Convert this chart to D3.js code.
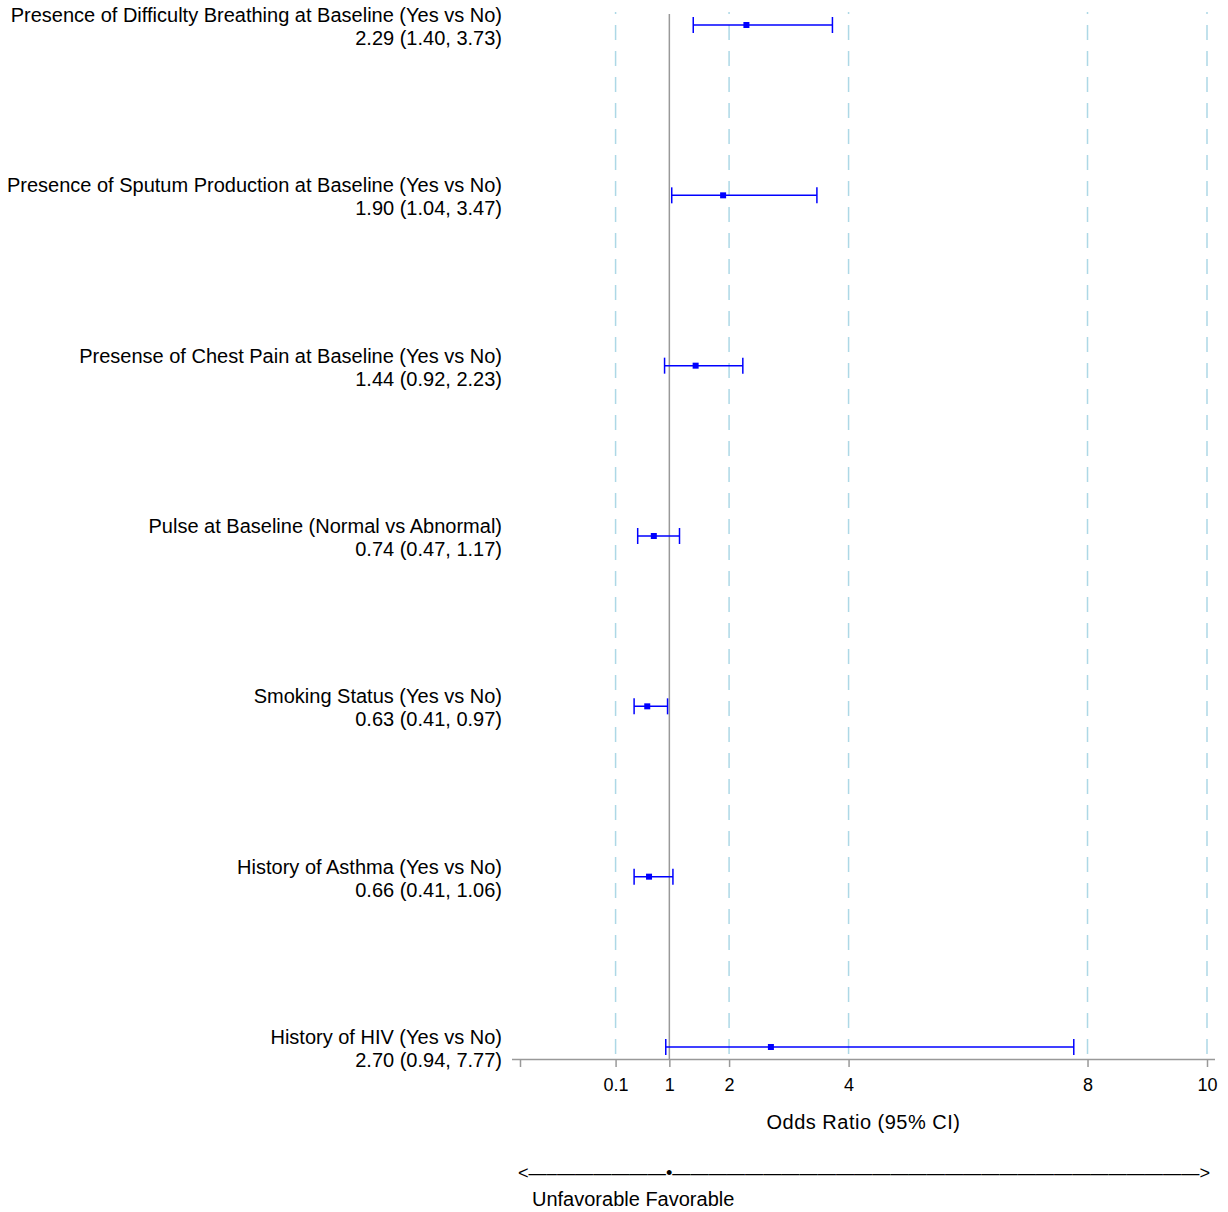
<!DOCTYPE html>
<html>
<head>
<meta charset="utf-8">
<script src="https://cdn.jsdelivr.net/npm/d3@7"></script>
<style>
  body { margin: 0; background: #fff; }
  text { font-family: 'Liberation Sans', Arial, sans-serif; fill: #000; }
</style>
</head>
<body>
<div id="forest"></div>
<script>
// data
const labels = [
    'Presence of Difficulty Breathing at Baseline (Yes vs No)',
    'Presence of Sputum Production at Baseline (Yes vs No)',
    'Presense of Chest Pain at Baseline (Yes vs No)',
    'Pulse at Baseline (Normal vs Abnormal)',
    'Smoking Status (Yes vs No)',
    'History of Asthma (Yes vs No)',
    'History of HIV (Yes vs No)'
];
const oddsRatio = [2.29, 1.90, 1.44, 0.74, 0.63, 0.66, 2.70];
const lower = [1.40, 1.04, 0.92, 0.47, 0.41, 0.41, 0.94];
const upper = [3.73, 3.47, 2.23, 1.17, 0.97, 1.06, 7.77];
const tickValues = [-1.5, 0.1, 1, 2, 4, 8, 10];
const refLines = [0.1, 2, 4, 8, 10];

// constants for svg
const width = 1228;
const height = 1212;

const svg = d3.select('#forest')
    .append('svg')
    .attr('width', width)
    .attr('height', height);

const rows = labels.map((d, i) => ({ label: d, or: oddsRatio[i], lo: lower[i], hi: upper[i] }));

// x scale (linear, as in the original)
const x = d3.scaleLinear()
    .domain([-1.5, 10])
    .range([520, 1207]);

// y scale for the rows
const y = d3.scalePoint()
    .domain(d3.range(rows.length))
    .range([25, 1047]);

const axisY = 1059;

// dashed reference lines
svg.selectAll('.ref')
    .data(refLines)
    .join('line')
    .attr('x1', d => x(d))
    .attr('x2', d => x(d))
    .attr('y1', 12)
    .attr('y2', axisY)
    .attr('stroke', '#add8e6')
    .attr('stroke-width', 1.5)
    .attr('stroke-dasharray', '15,11')
    .attr('stroke-dashoffset', 13);

// solid line at 1
svg.append('line')
    .attr('x1', x(1))
    .attr('x2', x(1))
    .attr('y1', 14)
    .attr('y2', axisY)
    .attr('stroke', '#999')
    .attr('stroke-width', 1.5);

// x axis
const axis = svg.append('g')
    .attr('transform', 'translate(0,' + axisY + ')')
    .call(d3.axisBottom(x)
        .tickValues(tickValues)
        .tickFormat(d => d < 0 ? '' : d3.format('~g')(d))
        .tickSize(8)
        .tickSizeOuter(0)
        .tickPadding(11));
axis.select('.domain')
    .attr('d', 'M512,0.5H1215')
    .attr('stroke', '#999')
    .attr('stroke-width', 1.5);
axis.selectAll('.tick line')
    .attr('stroke', '#999')
    .attr('stroke-width', 1.5);
axis.selectAll('.tick text')
    .style('font-family', "'Liberation Sans', Arial, sans-serif")
    .style('font-size', '18px')
    .attr('fill', '#000');

// axis title
svg.append('text')
    .attr('x', (x.range()[0] + x.range()[1]) / 2)
    .attr('y', 1129)
    .attr('text-anchor', 'middle')
    .style('font-size', '20px')
    .style('letter-spacing', '0.5px')
    .text('Odds Ratio (95% CI)');

// row labels
const g = svg.selectAll('.row')
    .data(rows)
    .join('g')
    .attr('class', 'row');

g.append('text')
    .attr('x', 502)
    .attr('y', (d, i) => y(i) - 3)
    .attr('text-anchor', 'end')
    .style('font-size', '20px')
    .text(d => d.label);

g.append('text')
    .attr('x', 502)
    .attr('y', (d, i) => y(i) + 20)
    .attr('text-anchor', 'end')
    .style('font-size', '20px')
    .text(d => d3.format('.2f')(d.or) + ' (' + d3.format('.2f')(d.lo) + ', ' + d3.format('.2f')(d.hi) + ')');

// CI lines
g.append('line')
    .attr('x1', d => x(d.lo))
    .attr('x2', d => x(d.hi))
    .attr('y1', (d, i) => y(i))
    .attr('y2', (d, i) => y(i))
    .attr('stroke', '#0000ff')
    .attr('stroke-width', 1.5);

// caps
['lo', 'hi'].forEach(k => {
    g.append('line')
        .attr('x1', d => x(d[k]))
        .attr('x2', d => x(d[k]))
        .attr('y1', (d, i) => y(i) - 8)
        .attr('y2', (d, i) => y(i) + 8)
        .attr('stroke', '#0000ff')
        .attr('stroke-width', 1.5);
});

// point estimate
g.append('rect')
    .attr('x', d => x(d.or) - 3)
    .attr('y', (d, i) => y(i) - 3)
    .attr('width', 6)
    .attr('height', 6)
    .attr('fill', '#0000ff');

// favorable arrow
svg.append('text')
    .attr('x', 518)
    .attr('y', 1179)
    .attr('textLength', 692)
    .attr('lengthAdjust', 'spacingAndGlyphs')
    .style('font-size', '18px')
    .text('<\u2014\u2013\u2014\u2014\u2014\u2014\u2014\u2014\u2022' + '\u2014'.repeat(29) + '>');

svg.append('text')
    .attr('x', 532)
    .attr('y', 1206)
    .style('font-size', '20px')
    .text('Unfavorable Favorable');
</script>
</body>
</html>
